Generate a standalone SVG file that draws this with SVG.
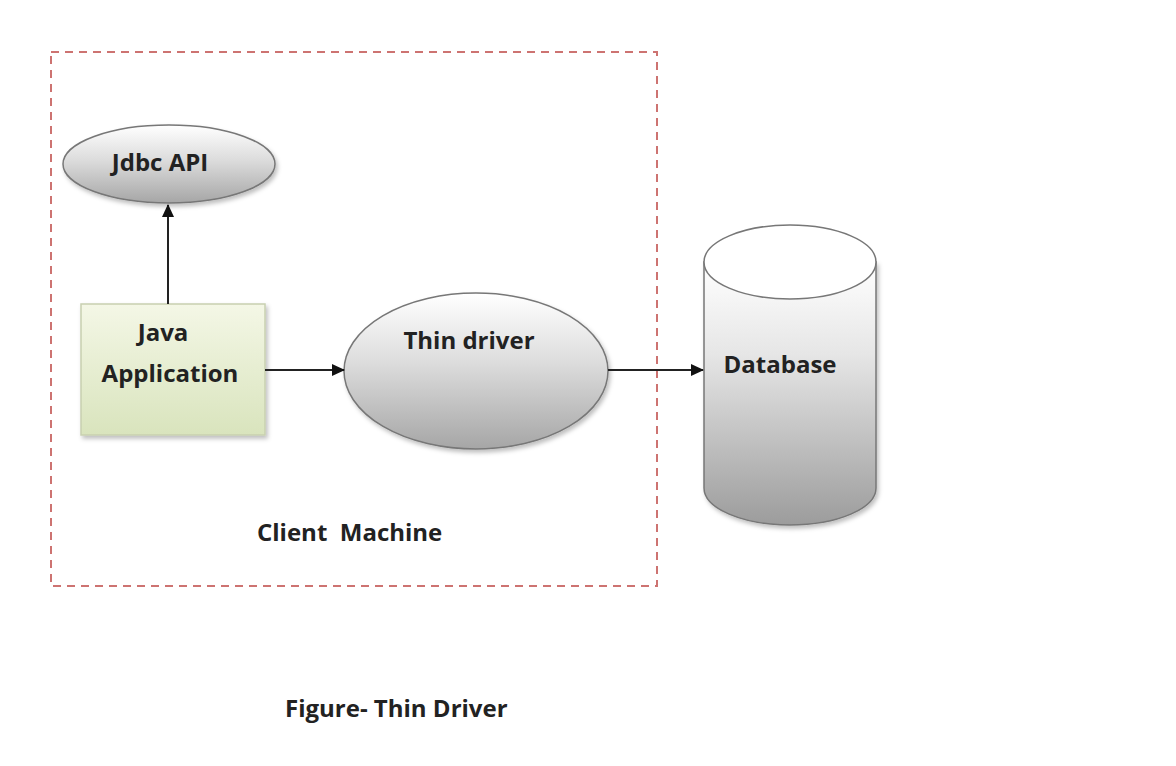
<svg xmlns="http://www.w3.org/2000/svg" width="1176" height="766" viewBox="0 0 1176 766">
<defs>
<linearGradient id="gGray" x1="0" y1="0" x2="0" y2="1">
<stop offset="0" stop-color="#ffffff"/>
<stop offset="0.45" stop-color="#dcdcdc"/>
<stop offset="1" stop-color="#a6a6a6"/>
</linearGradient>
<linearGradient id="gCyl" x1="0" y1="0" x2="0" y2="1">
<stop offset="0" stop-color="#ffffff"/>
<stop offset="0.35" stop-color="#e6e6e6"/>
<stop offset="1" stop-color="#9c9c9c"/>
</linearGradient>
<linearGradient id="gGreen" x1="0" y1="0" x2="0" y2="1">
<stop offset="0" stop-color="#f4f7e6"/>
<stop offset="1" stop-color="#d9e4bd"/>
</linearGradient>
<filter id="sh" x="-10%" y="-10%" width="125%" height="130%">
<feDropShadow dx="2" dy="3" stdDeviation="2" flood-color="#000" flood-opacity="0.25"/>
</filter>
<marker id="arr" markerWidth="13" markerHeight="12" refX="12" refY="6" orient="auto" markerUnits="userSpaceOnUse" viewBox="0 0 13 12">
<path d="M0,0 L13,6 L0,12 z" fill="#111"/>
</marker>
<style>
.lbl{font-family:"Open Sans","Noto Sans","Liberation Sans",sans-serif;font-weight:bold;font-size:24px;fill:#222;}
.edge{stroke:#222;stroke-width:2;fill:none;}
.outline{stroke:#777;stroke-width:1.5;}
</style>
</defs>
<rect width="1176" height="766" fill="#ffffff"/>

<g id="client-machine">
<rect x="51" y="52" width="606" height="534" fill="none" stroke="#c0504d" stroke-width="2" stroke-dasharray="8,6" opacity="0.8"/>
<text class="lbl" x="257" y="541" xml:space="preserve">Client  Machine</text>
</g>

<g id="jdbc-api">
<ellipse cx="169" cy="164" rx="106" ry="39" fill="url(#gGray)" class="outline" filter="url(#sh)"/>
<text class="lbl" x="160" y="171" text-anchor="middle">Jdbc API</text>
</g>

<g id="java-application">
<rect x="81" y="304" width="184" height="131" fill="url(#gGreen)" stroke="#c8d0b0" stroke-width="1.5" filter="url(#sh)"/>
<text class="lbl" x="163" y="341" text-anchor="middle">Java</text>
<text class="lbl" x="170" y="382" text-anchor="middle">Application</text>
</g>

<g id="thin-driver">
<ellipse cx="476" cy="371" rx="132" ry="78" fill="url(#gGray)" class="outline" filter="url(#sh)"/>
<text class="lbl" x="469" y="349" text-anchor="middle">Thin driver</text>
</g>

<g id="database">
<path d="M704,262 L704,488 A86,37 0 0 0 876,488 L876,262 Z" fill="url(#gCyl)" class="outline" filter="url(#sh)"/>
<ellipse cx="790" cy="262" rx="86" ry="37" fill="#ffffff" class="outline"/>
<text class="lbl" x="780" y="373" text-anchor="middle">Database</text>
</g>

<g id="connectors">
<line class="edge" x1="168" y1="304" x2="168" y2="205" marker-end="url(#arr)"/>
<line class="edge" x1="265" y1="370" x2="344" y2="370" marker-end="url(#arr)"/>
<line class="edge" x1="608" y1="370" x2="703" y2="370" marker-end="url(#arr)"/>
</g>

<text class="lbl" x="285" y="717">Figure- Thin Driver</text>
</svg>
